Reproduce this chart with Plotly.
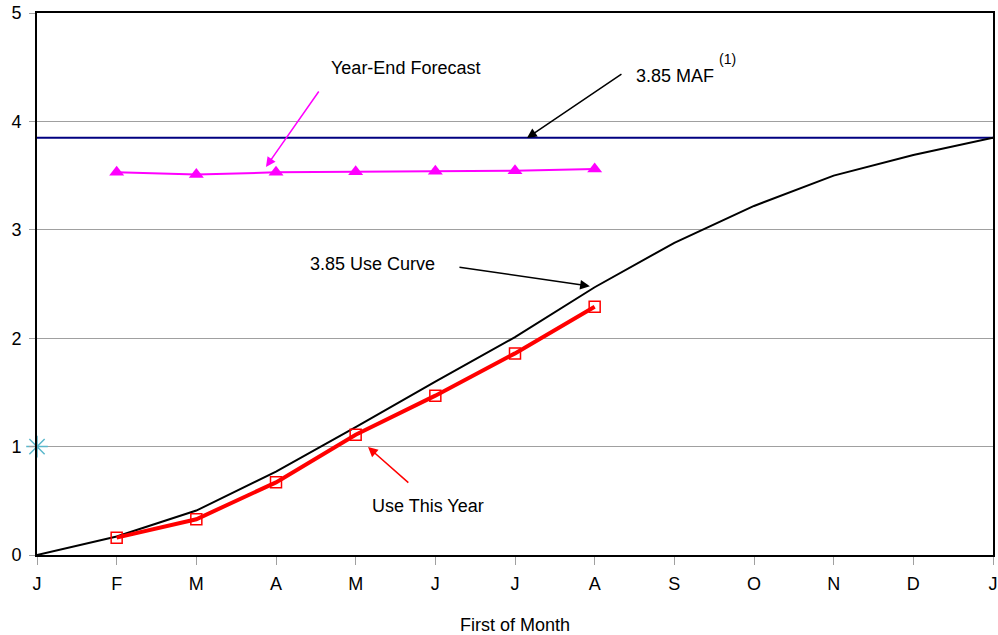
import plotly.graph_objects as go

months = ["J", "F", "M", "A", "M", "J", "J", "A", "S", "O", "N", "D", "J"]
use_curve = [0.0, 0.17, 0.41, 0.77, 1.18, 1.60, 2.01, 2.47, 2.88, 3.22, 3.50, 3.69, 3.85]
use_this_year = [0.16, 0.33, 0.67, 1.11, 1.47, 1.86, 2.29]
year_end_forecast = [3.53, 3.51, 3.53, 3.535, 3.54, 3.545, 3.56]
maf_level = 3.85
start_marker = 1.0

xi = list(range(len(months)))

fig = go.Figure()
fig.add_trace(go.Scatter(x=[xi[0], xi[-1]], y=[maf_level, maf_level], mode="lines",
                         line=dict(color="#000080", width=2), hoverinfo="skip"))
fig.add_trace(go.Scatter(x=xi, y=use_curve, mode="lines",
                         line=dict(color="black", width=2)))
fig.add_trace(go.Scatter(x=xi[1:1 + len(year_end_forecast)], y=year_end_forecast, mode="lines+markers",
                         line=dict(color="#ff00ff", width=2),
                         marker=dict(symbol="triangle-up", size=13, color="#ff00ff")))
fig.add_trace(go.Scatter(x=xi[1:1 + len(use_this_year)], y=use_this_year, mode="lines+markers",
                         line=dict(color="#ff0000", width=4),
                         marker=dict(symbol="square-open", size=11, color="#ff0000", line=dict(width=1.5))))
fig.add_trace(go.Scatter(x=[xi[0]], y=[start_marker], mode="markers", cliponaxis=False,
                         marker=dict(symbol="asterisk-open", size=18, color="#5bb8cc",
                                     line=dict(color="#5bb8cc", width=1.5))))

FAM = "Liberation Sans, Arial, sans-serif"
font = dict(family=FAM, size=18, color="black")

def arrow(tx, ty, hx, hy, color):
    fig.add_annotation(x=hx, y=hy, ax=tx, ay=ty, xref="x", yref="y", axref="x", ayref="y",
                       text="", showarrow=True, arrowhead=2, arrowsize=1.3, arrowwidth=1.5,
                       arrowcolor=color)

arrow(3.55, 4.29, 2.874, 3.58, "#ff00ff")
arrow(7.355, 4.446, 6.15, 3.847, "black")
arrow(5.284, 2.657, 6.94, 2.48, "black")
arrow(4.68, 0.655, 4.155, 0.996, "#ff0000")

def label(x, y, text, size=18):
    fig.add_annotation(x=x, y=y, xref="x", yref="y", text=text, showarrow=False,
                       font=dict(family=FAM, size=size, color="black"))

label(4.62, 4.49, "Year-End Forecast")
label(8.01, 4.42, "3.85 MAF")
label(8.67, 4.575, "(1)", 14)
label(4.205, 2.685, "3.85 Use Curve")
label(4.91, 0.452, "Use This Year")

fig.update_layout(
    width=998, height=635,
    margin=dict(l=37, r=5, t=13, b=80),
    paper_bgcolor="white", plot_bgcolor="white",
    showlegend=False, font=font, hovermode=False,
    xaxis=dict(range=[0, 12], tickmode="array", tickvals=xi, ticktext=months,
               showgrid=False, zeroline=False, showline=True, mirror=True,
               linecolor="black", linewidth=2, ticks="outside", ticklen=8,
               tickcolor="#a0a0a0", tickfont=font, automargin=False,
               ticklabelstandoff=3,
               title=dict(text="First of Month", font=font, standoff=29)),
    yaxis=dict(range=[0, 5], tickmode="array", tickvals=[0, 1, 2, 3, 4, 5],
               showgrid=True, gridcolor="#a0a0a0", gridwidth=1, zeroline=False,
               showline=True, mirror=True, linecolor="black", linewidth=2,
               ticks="outside", ticklen=6, tickcolor="#a0a0a0", tickfont=font,
               automargin=False, ticklabelstandoff=4),
)

fig.write_html("out.html", config={"displayModeBar": False},
               post_script="document.body.style.margin='0';document.body.style.overflow='hidden';")
